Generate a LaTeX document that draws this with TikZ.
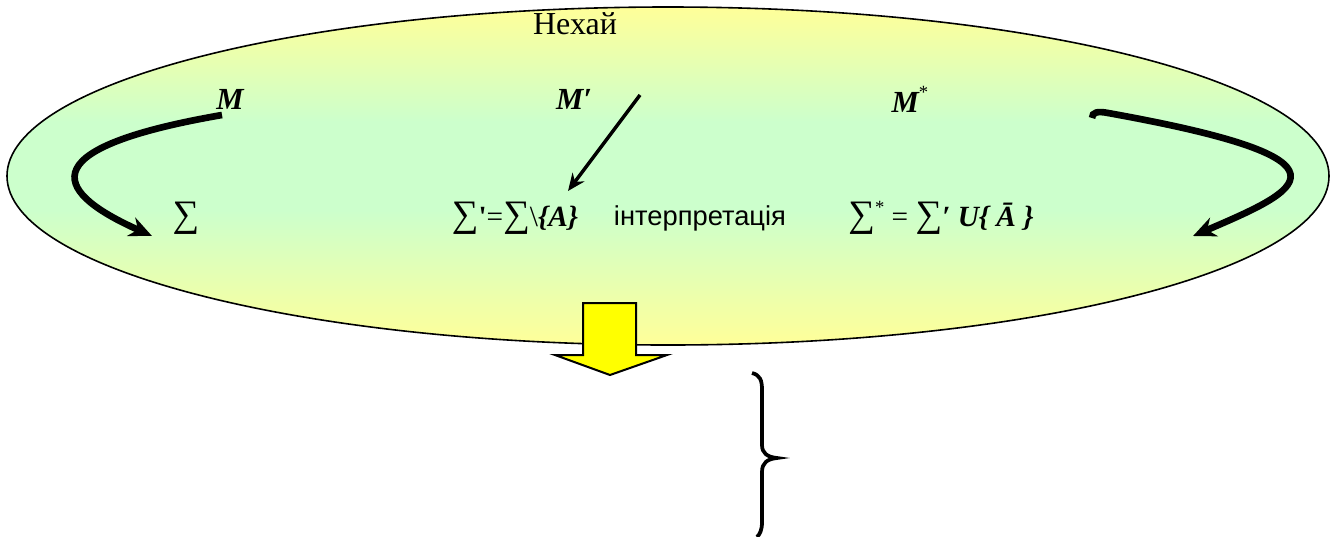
\documentclass[tikz,border=0pt]{standalone}
\usepackage{fontspec}
\setmainfont{Liberation Serif}
\newfontfamily\hxsans{Liberation Sans}
\usetikzlibrary{arrows.meta}
\definecolor{hxYellow}{HTML}{FFFF99}
\definecolor{hxGreen}{HTML}{CCFFCC}
\definecolor{hxBlock}{HTML}{FFFF00}
\pgfdeclareverticalshading{hxband}{100bp}{color(0bp)=(hxYellow); color(25bp)=(hxYellow); color(45bp)=(hxGreen); color(58bp)=(hxGreen); color(75bp)=(hxYellow); color(100bp)=(hxYellow)}
\tikzset{
  hx oval/.style={draw=black, line width=1.2pt, shade, shading=hxband},
  hx curve/.style={draw=black, line width=5pt, -{Stealth[length=17pt,width=15pt]}},
  hx pointer/.style={draw=black, line width=2.6pt, -{Stealth[length=13pt,width=11pt]}},
  hx block/.style={fill=hxBlock, draw=black, line width=1.5pt, line join=miter},
  hx brace/.style={draw=black, line width=2.8pt},
  hx title/.style={font=\fontsize{24}{27}\selectfont},
  hx label/.style={font=\fontsize{23}{26}\selectfont\bfseries\itshape},
  hx formula/.style={font=\fontsize{22}{26}\selectfont},
  hx note/.style={font=\hxsans\fontsize{20.5}{24}\selectfont},
}
\newcommand{\hxstar}{\raisebox{0.45em}{\fontsize{14}{14}\selectfont\mdseries\upshape *}}
\newcommand{\hxsum}{{\fontsize{28}{28}\selectfont ∑}}

\begin{document}
\begin{tikzpicture}[x=0.75pt,y=-0.75pt]
\useasboundingbox (0,0) rectangle (1331,536);
\draw[hx oval] (668,176) ellipse [x radius=661, y radius=169];
% labels
\node[hx title] (let) at (575,24) {Нехай};
\node[hx label] (m) at (230,99) {M};
\node[hx label] (mp) at (574,99) {M′};
\node[hx label] (ms) at (910,99) {M\hxstar};
\node[hx formula] (sig) at (186,218) {\hxsum};
\node[hx formula] (sig1) at (515,218) {\hxsum\textbf{\textquotesingle}=\hxsum\textbackslash\textbf{\textit{\{A\}}}};
\node[hx note] (interp) at (700,218) {інтерпретація};
\node[hx formula] (sigs) at (941,218) {\hxsum\hxstar\ = \hxsum\textbf{\textit{′}} \textbf{\textit{U\{ Ā \}}}};
% arrow ends
\coordinate (m tail) at (222,115);
\coordinate (sig tip) at (152,236);
\coordinate (mp tail) at (640,95);
\coordinate (sig1 tip) at (568,191);
\coordinate (ms tail) at (1092,118);
\coordinate (sigs tip) at (1193,236);
\draw[hx curve] (m tail) .. controls (20,150) and (60,195) .. (sig tip);
\draw[hx pointer] (mp tail) -- (sig1 tip);
\draw[hx curve] (ms tail) .. controls (1092,112) and (1098,111) .. (1108,113) .. controls (1370,160) and (1300,190) .. (sigs tip);
% big arrow and brace
\draw[hx block] (583,303) -- (636,303) -- (636,355) -- (667,355) -- (610,375) -- (555,355) -- (583,355) -- cycle;
\draw[hx brace] (752,373) .. controls (760,375) and (762,380) .. (762,390) -- (762,445) .. controls (762,453) and (767,457) .. (777,458) .. controls (767,459) and (762,463) .. (762,472) -- (762,522) .. controls (762,530) and (760,534) .. (757,537);
\end{tikzpicture}
\end{document}
